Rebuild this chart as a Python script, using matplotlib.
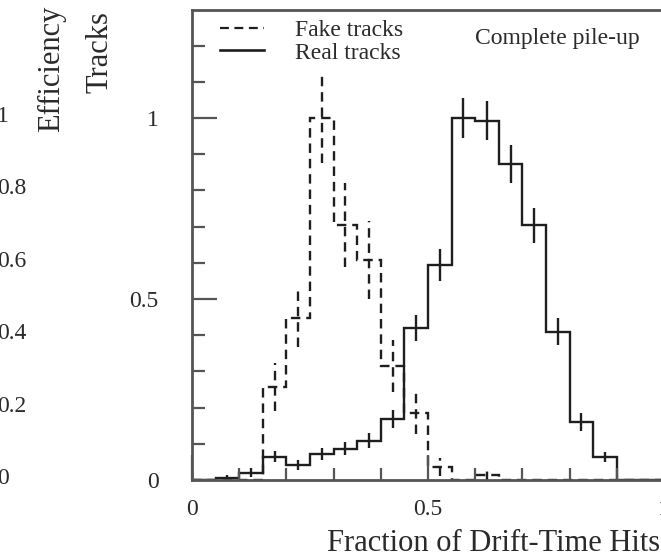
import matplotlib
matplotlib.use("Agg")
import matplotlib.pyplot as plt
from matplotlib.lines import Line2D
from matplotlib.ticker import MultipleLocator, FixedLocator
import numpy as np

plt.rcParams["font.family"] = ["Liberation Serif", "DejaVu Serif"]

# ── data ──────────────────────────────────────────────
BIN_EDGES = np.linspace(0.0, 1.0, 21)   # 20 bins of 0.05

FAKE = [0, 0, 0, 0.257, 0.448, 1.000, 0.704, 0.608, 0.315, 0.185,
        0.037, 0, 0.013, 0, 0, 0, 0, 0, 0, 0]
FAKE_ERR = [0, 0, 0, 0.066, 0.080, 0.125, 0.116, 0.107, 0.073, 0.057,
            0.025, 0, 0.015, 0, 0, 0, 0, 0, 0, 0]

REAL = [0, 0.005, 0.020, 0.064, 0.041, 0.072, 0.087, 0.109, 0.168, 0.420,
        0.594, 1.000, 0.993, 0.873, 0.704, 0.410, 0.161, 0.064, 0, 0]
REAL_ERR = [0, 0.008, 0.012, 0.015, 0.013, 0.016, 0.018, 0.020, 0.025, 0.037,
            0.044, 0.055, 0.055, 0.053, 0.048, 0.037, 0.025, 0.014, 0, 0]

X_TICKS = [0, 0.5, 1]
X_TICK_LABELS = ["0", "0.5", "1"]
Y_TICKS = [0, 0.5, 1]
Y_TICK_LABELS = ["0", "0.5", "1"]

# neighbouring panel (cut off on the left): its right-hand efficiency axis
EFF_TICKS = [0, 0.2, 0.4, 0.6, 0.8, 1]
EFF_TICK_LABELS = ["0", "0.2", "0.4", "0.6", "0.8", "1"]

LINE = "#1e1e1e"
AXC = "#555555"
TXT = "#2a2a2a"
DASH = (4, 2.5)

W, H = 661, 552
fig = plt.figure(figsize=(W / 100, H / 100), dpi=100)
ax = fig.add_axes([192 / W, (H - 480) / H, 472 / W, 470 / H])

centers = 0.5 * (BIN_EDGES[:-1] + BIN_EDGES[1:])
fake = np.array(FAKE)
real = np.array(REAL)

# histograms
ax.stairs(real, BIN_EDGES, baseline=0, color=LINE, lw=1.7)
st = ax.stairs(fake, BIN_EDGES, baseline=0, color=LINE, lw=1.7)
st.set_linestyle((0, DASH))

# error bars (only filled bins)
m = real > 0
ax.errorbar(centers[m], real[m], yerr=np.array(REAL_ERR)[m], fmt="none",
            ecolor=LINE, elinewidth=1.7, capsize=0)
m = fake > 0
eb = ax.errorbar(centers[m], fake[m], yerr=np.array(FAKE_ERR)[m], fmt="none",
                 ecolor=LINE, elinewidth=1.7, capsize=0)
eb[2][0].set_linestyle((0, DASH))

ax.set_xlim(0, 1)
ax.set_ylim(0, 470 / 362)

for s in ["left", "bottom", "top", "right"]:
    ax.spines[s].set_color(AXC)
    ax.spines[s].set_linewidth(2.0)

ax.xaxis.set_major_locator(FixedLocator(X_TICKS))
ax.set_xticklabels(X_TICK_LABELS)
ax.yaxis.set_major_locator(FixedLocator(Y_TICKS))
ax.set_yticklabels(Y_TICK_LABELS)
ax.xaxis.set_minor_locator(MultipleLocator(0.1))
ax.yaxis.set_minor_locator(MultipleLocator(0.1))
ax.tick_params(which="both", direction="in", color=AXC, width=1.6,
               labelcolor=TXT, labelsize=17)
ax.tick_params(which="major", length=18)
ax.tick_params(which="minor", length=9)
ax.tick_params(axis="y", pad=24)
ax.tick_params(axis="x", pad=14)

ax.set_xlabel("Fraction of Drift-Time Hits", fontsize=22, color=TXT,
              ha="left", x=0.286, labelpad=6)

fig.text(100 / W, 1 - 11 / H, "Tracks", rotation=90, ha="center", va="top",
         fontsize=22, color=TXT)
fig.text(52 / W, 1 - 6 / H, "Efficiency", rotation=90, ha="center", va="top",
         fontsize=22, color=TXT)
for v, lab in zip(EFF_TICKS, EFF_TICK_LABELS):
    fig.text(-3 / W, 1 - (479 - v * 363) / H, lab, ha="left", va="center",
             fontsize=17, color=TXT)

# legend
handles = [Line2D([], [], color=LINE, lw=1.6, dashes=DASH),
           Line2D([], [], color=LINE, lw=1.9)]
ax.legend(handles, ["Fake tracks", "Real tracks"], loc="upper left",
          bbox_to_anchor=(0.02, 1.02), frameon=False, fontsize=17,
          handlelength=1.85, handletextpad=1.3, labelspacing=0.05,
          labelcolor=TXT, borderpad=0.3)

ax.text(0.6, 0.94, "Complete pile-up", transform=ax.transAxes, fontsize=17,
        color=TXT, ha="left", va="center")

fig.savefig("out.png", dpi=100)
